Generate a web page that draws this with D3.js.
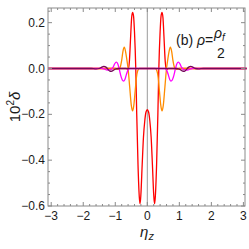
<!DOCTYPE html>
<html lang="en">
<head>
  <meta charset="UTF-8">
  <title>delta vs eta_z</title>
  <script src="https://d3js.org/d3.v7.min.js"></script>
  <style>
    body {
      background: #fff;
      margin: 0;
    }
    .tick-label, .label {
      font-family: 'Liberation Sans', Arial, sans-serif;
      fill: #1a1a1a;
    }
  </style>
</head>
<body>
  <script>
    // values (10^2 delta against eta_z)
    var redEta = [-3.1, -0.8, -0.66, -0.6, -0.56, -0.52, -0.49, -0.46, -0.43, -0.4, -0.36, -0.33, -0.29, -0.25, -0.225, -0.2, -0.16, -0.12, -0.08, -0.04, 0,
                  0.04, 0.08, 0.12, 0.16, 0.2, 0.225, 0.25, 0.29, 0.33, 0.36, 0.4, 0.43, 0.46, 0.49, 0.52, 0.56, 0.6, 0.66, 0.8, 3.1];
    var redVal = [0, 0, 0, -0.005, 0.03, 0.14, 0.22, 0.245, 0.23, 0.16, 0, -0.2, -0.42, -0.56, -0.59, -0.55, -0.42, -0.3, -0.23, -0.19, -0.18,
                  -0.19, -0.23, -0.3, -0.42, -0.55, -0.59, -0.56, -0.42, -0.2, 0, 0.16, 0.23, 0.245, 0.22, 0.14, 0.03, -0.005, 0, 0, 0];

    var orangeEta = [-3.1, -1.0, -0.9, -0.85, -0.8, -0.76, -0.72, -0.68, -0.64, -0.6, -0.55, -0.5, -0.46, -0.42, -0.38, -0.34, -0.3, -0.25, 0,
                     0.25, 0.3, 0.34, 0.38, 0.42, 0.46, 0.5, 0.55, 0.6, 0.64, 0.68, 0.72, 0.76, 0.8, 0.85, 0.9, 1.0, 3.1];
    var orangeVal = [0, 0, -0.004, 0.004, 0.035, 0.075, 0.093, 0.075, 0.04, 0, -0.08, -0.16, -0.185, -0.16, -0.1, -0.04, -0.01, 0, 0,
                     0, -0.01, -0.04, -0.1, -0.16, -0.185, -0.16, -0.08, 0, 0.04, 0.075, 0.093, 0.075, 0.035, 0.004, -0.004, 0, 0];

    var magentaEta = [-3.1, -1.6, -1.45, -1.35, -1.25, -1.15, -1.07, -1.02, -0.97, -0.92, -0.88, -0.83, -0.78, -0.74, -0.7, -0.65, -0.6, -0.55, 0,
                      0.55, 0.6, 0.65, 0.7, 0.74, 0.78, 0.83, 0.88, 0.92, 0.97, 1.02, 1.07, 1.15, 1.25, 1.35, 1.45, 1.6, 3.1];
    var magentaVal = [0, 0, 0.002, -0.002, -0.007, -0.005, 0.005, 0.02, 0.028, 0.02, 0, -0.03, -0.05, -0.055, -0.048, -0.025, -0.006, 0, 0,
                      0, -0.006, -0.025, -0.048, -0.055, -0.05, -0.03, 0, 0.02, 0.028, 0.02, 0.005, -0.005, -0.007, -0.002, 0.002, 0, 0];

    var purpleEta = [-3.1, -1.75, -1.6, -1.5, -1.42, -1.36, -1.28, -1.22, -1.16, -1.1, -1.0, -0.9, 0,
                     0.9, 1.0, 1.1, 1.16, 1.22, 1.28, 1.36, 1.42, 1.5, 1.6, 1.75, 3.1];
    var purpleVal = [0, 0, -0.002, 0, 0.006, 0.009, 0.005, -0.005, -0.012, -0.011, -0.003, 0, 0,
                     0, -0.003, -0.011, -0.012, -0.005, 0.005, 0.009, 0.006, 0, -0.002, 0, 0];

    var xTicks = [-3, -2, -1, 0, 1, 2, 3];
    var yTicks = [-0.6, -0.4, -0.2, 0.0, 0.2];

    var width = 249, height = 249;
    var padLeft = 48, padRight = 245, padTop = 8, padBottom = 206;

    var svg = d3.select("body").append("svg")
      .attr("width", width)
      .attr("height", height);

    var x = d3.scaleLinear().domain([-3.1, 3.05]).range([padLeft, padRight]);
    var y = d3.scaleLinear().domain([-0.6, 0.264]).range([padBottom, padTop]);

    var plot = svg.append("g");

    // vertical axis line at eta = 0
    plot.append("line")
      .attr("x1", x(0)).attr("x2", x(0))
      .attr("y1", padTop).attr("y2", padBottom)
      .attr("stroke", "#9a9a9a")
      .attr("stroke-width", 1);

    var series = [
      { eta: redEta, val: redVal, color: "#ff0000" },
      { eta: orangeEta, val: orangeVal, color: "#ff8c00" },
      { eta: magentaEta, val: magentaVal, color: "#ff00ff" },
      { eta: purpleEta, val: purpleVal, color: "#74095a" }
    ];

    var line = d3.line()
      .x(function(d) { return x(d[0]); })
      .y(function(d) { return y(d[1]); })
      .curve(d3.curveMonotoneX);

    plot.selectAll(".curve")
      .data(series)
      .enter()
      .append("path")
      .attr("class", "curve")
      .attr("fill", "none")
      .attr("stroke", function(d) { return d.color; })
      .attr("stroke-width", 1.3)
      .attr("d", function(d) {
        return line(d.eta.map(function(e, i) { return [e, d.val[i]]; }));
      });

    // frame with inward ticks on all sides
    var frame = svg.append("g").attr("stroke", "#8a8a8a").attr("stroke-width", 1);
    frame.append("rect")
      .attr("x", padLeft).attr("y", padTop)
      .attr("width", padRight - padLeft).attr("height", padBottom - padTop)
      .attr("fill", "none");

    var xMinor = d3.range(-30, 31, 2).map(function(v) { return v / 10; });
    xMinor.forEach(function(v) {
      var major = Math.abs(v - Math.round(v)) < 1e-6;
      var len = major ? 4 : 2;
      frame.append("line").attr("x1", x(v)).attr("x2", x(v)).attr("y1", padBottom).attr("y2", padBottom - len);
      frame.append("line").attr("x1", x(v)).attr("x2", x(v)).attr("y1", padTop).attr("y2", padTop + len);
    });

    var yMinor = d3.range(-60, 26, 5).map(function(v) { return v / 100; });
    yMinor.forEach(function(v) {
      var major = Math.abs(v * 5 - Math.round(v * 5)) < 1e-6;
      var len = major ? 4 : 2;
      frame.append("line").attr("x1", padLeft).attr("x2", padLeft + len).attr("y1", y(v)).attr("y2", y(v));
      frame.append("line").attr("x1", padRight).attr("x2", padRight - len).attr("y1", y(v)).attr("y2", y(v));
    });

    svg.selectAll(".xlab")
      .data(xTicks)
      .enter()
      .append("text")
      .attr("class", "tick-label")
      .attr("x", function(d) { return x(d); })
      .attr("y", 220)
      .attr("text-anchor", "middle")
      .attr("font-size", 12)
      .text(function(d) { return d < 0 ? "\u2212" + Math.abs(d) : d; });

    svg.selectAll(".ylab")
      .data(yTicks)
      .enter()
      .append("text")
      .attr("class", "tick-label")
      .attr("x", 45)
      .attr("y", function(d) { return y(d) + 4; })
      .attr("text-anchor", "end")
      .attr("font-size", 12)
      .text(function(d) { return d < 0 ? "\u2212" + Math.abs(d).toFixed(1) : d.toFixed(1); });

    // axis titles
    var yl = svg.append("text")
      .attr("class", "label")
      .attr("transform", "translate(20,107) rotate(-90)")
      .attr("text-anchor", "middle")
      .attr("font-size", 15);
    yl.append("tspan").text("10");
    yl.append("tspan").attr("font-size", 10).attr("dy", -6).text("2");
    yl.append("tspan").attr("dy", 6).attr("font-style", "italic").text("\u03b4");

    var xl = svg.append("text")
      .attr("class", "label")
      .attr("x", 147)
      .attr("y", 237)
      .attr("text-anchor", "middle")
      .attr("font-size", 15);
    xl.append("tspan").attr("font-style", "italic").text("\u03b7");
    xl.append("tspan").attr("font-style", "italic").attr("font-size", 11).attr("dy", 3).text("z");

    // annotation
    var ann = svg.append("text")
      .attr("class", "label")
      .attr("x", 176)
      .attr("y", 45)
      .attr("font-size", 14);
    ann.append("tspan").text("(b) ");
    ann.append("tspan").attr("font-style", "italic").text("\u03c1");
    ann.append("tspan").text("=");

    var num = svg.append("text")
      .attr("class", "label")
      .attr("x", 214)
      .attr("y", 38)
      .attr("font-size", 14);
    num.append("tspan").attr("font-style", "italic").text("\u03c1");
    num.append("tspan").attr("font-style", "italic").attr("font-size", 10).attr("dy", 3).text("f");

    svg.append("text")
      .attr("class", "label")
      .attr("x", 221)
      .attr("y", 58)
      .attr("text-anchor", "middle")
      .attr("font-size", 14)
      .text("2");
  </script>
</body>
</html>
